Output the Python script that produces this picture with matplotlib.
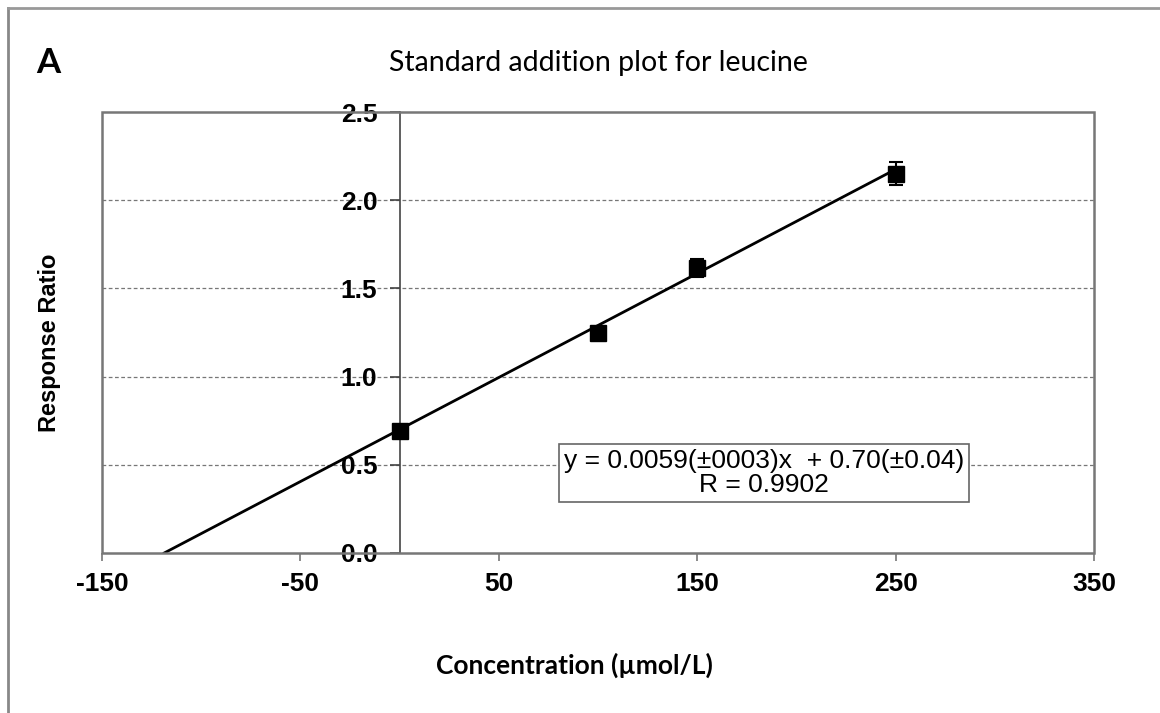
import matplotlib
matplotlib.use('Agg')
import matplotlib.pyplot as plt
from matplotlib.patches import Rectangle
from matplotlib.lines import Line2D

# leucine standard addition data
conc = [0, 100, 150, 250]
ratio = [0.69, 1.245, 1.615, 2.15]
err = [0.03, 0.03, 0.05, 0.065]

slope = 0.0059
intercept = 0.70

xticks = [-150, -50, 50, 150, 250, 350]
yticks = [0.0, 0.5, 1.0, 1.5, 2.0, 2.5]

fig = plt.figure(figsize=(11.6, 7.13), dpi=100)
ax = fig.add_axes([102/1160, 1-553/713, (1094-102)/1160, (553-112)/713])

# grid
for yv in yticks[1:-1]:
    ax.axhline(yv, color='#777777', lw=0.9, ls=(0, (3, 2)), zorder=1)

# regression line, from x-intercept to last standard
x0 = -intercept / slope
ax.plot([x0, conc[-1]], [slope*x0 + intercept, slope*conc[-1] + intercept],
        color='black', lw=2.0, zorder=3)

ax.errorbar(conc, ratio, yerr=err, fmt='s', color='black', ms=11,
            ecolor='black', elinewidth=1.5, capsize=5, capthick=1.5, zorder=4)

ax.set_xlim(-150, 350)
ax.set_ylim(0, 2.5)
ax.set_xticks(xticks)
ax.set_yticks(yticks)
ax.set_xticklabels([str(t) for t in xticks])
ax.set_yticklabels(['%.1f' % t for t in yticks])

for sp in ['top', 'right', 'bottom']:
    ax.spines[sp].set_visible(False)
ax.spines['left'].set_position(('data', 0))
ax.spines['left'].set_color('#444444')
ax.spines['left'].set_linewidth(1.2)

ax.add_patch(Rectangle((0, 0), 1, 1, transform=ax.transAxes, fill=False,
                       edgecolor='#777777', lw=1.8, zorder=5, clip_on=False))

ax.tick_params(axis='y', direction='out', length=7, width=1.2, color='#444444', pad=9,
               labelsize=19)
ax.tick_params(axis='x', direction='out', length=6, width=1.2, color='#777777', pad=8,
               labelsize=19)
for lab in ax.get_xticklabels() + ax.get_yticklabels():
    lab.set_fontfamily('Liberation Sans')
    lab.set_fontweight('bold')

ax.text(183.7, 0.453, 'y = 0.0059(\u00b10003)x  + 0.70(\u00b10.04)\nR = 0.9902',
        ha='center', va='center', multialignment='center', fontsize=19,
        family='Liberation Sans', linespacing=1.0, zorder=6,
        bbox=dict(boxstyle='square,pad=0.2', facecolor='white',
                  edgecolor='#666666', lw=1.2))

fig.text(598/1160, 1-63/713, 'Standard addition plot for leucine', ha='center',
         va='center', fontsize=20.5, family='Lato')
fig.text(36/1160, 1-63/713, 'A', ha='left', va='center', fontsize=25,
         family='Lato', fontweight='bold')
fig.text(574/1160, 1-665/713, 'Concentration (\u00b5mol/L)', ha='center',
         va='center', fontsize=19, family='Lato', fontweight='bold')
fig.text(50/1160, 1-343/713, 'Response Ratio', ha='center', va='center',
         rotation=90, fontsize=17, family='Liberation Sans', fontweight='bold')

# outer frame (top and left edges)
fig.add_artist(Line2D([8/1160, 8/1160], [0, 1-8/713], transform=fig.transFigure,
                      color='#888888', lw=2))
fig.add_artist(Line2D([8/1160, 1], [1-8/713, 1-8/713], transform=fig.transFigure,
                      color='#999999', lw=2))

fig.savefig('out.png', dpi=100)
